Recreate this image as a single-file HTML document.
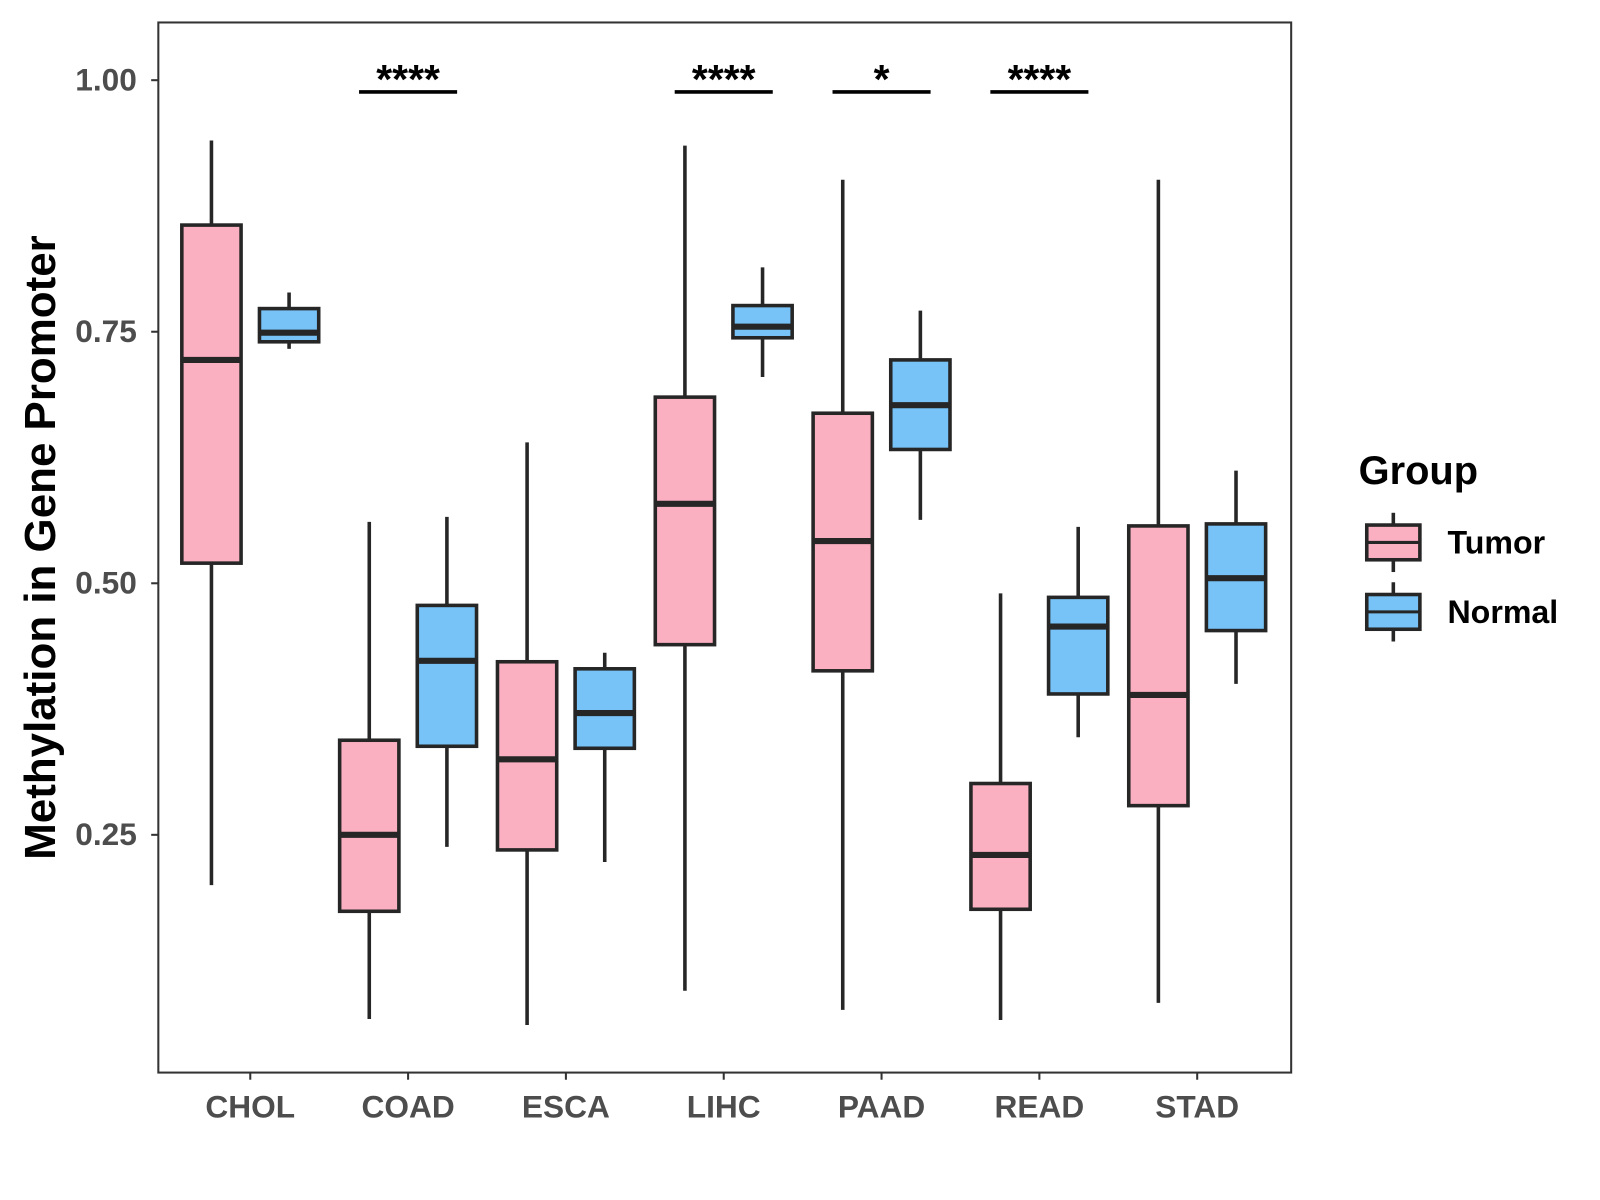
<!DOCTYPE html>
<html><head><meta charset="utf-8"><style>
body{margin:0;background:#fff}
svg{display:block;font-family:"Liberation Sans",Arial,sans-serif}
</style></head><body>
<svg width="1600" height="1200" viewBox="0 0 1600 1200"><g id="chart" transform="scale(1.0215)"></g></svg>
<script>
const categories=["CHOL","COAD","ESCA","LIHC","PAAD","READ","STAD"];
const tumorStats=[[0.20,0.52,0.722,0.856,0.94],[0.067,0.174,0.25,0.344,0.561],[0.061,0.235,0.325,0.422,0.64],[0.095,0.439,0.579,0.685,0.935],[0.076,0.413,0.542,0.669,0.901],[0.066,0.176,0.23,0.301,0.49],[0.083,0.279,0.389,0.557,0.901]];
const normalStats=[[0.733,0.74,0.749,0.773,0.789],[0.238,0.338,0.423,0.478,0.566],[0.223,0.336,0.371,0.415,0.431],[0.705,0.744,0.755,0.776,0.814],[0.563,0.633,0.677,0.722,0.771],[0.347,0.39,0.457,0.486,0.556],[0.40,0.453,0.505,0.559,0.612]];
const sigLabels=["","****","","****","*","****",""];
const yTicks=[0.25,0.5,0.75,1.0];
const yTickLabels=["0.25","0.50","0.75","1.00"];

const svg=document.getElementById('chart');
const NS="http://www.w3.org/2000/svg";
function y(v){return 571-(v-0.5)*985;}
function x(i){return 245+i*154.5;}
function add(tag,attrs,text){const e=document.createElementNS(NS,tag);for(const k in attrs)e.setAttribute(k,attrs[k]);if(text!==undefined)e.textContent=text;svg.appendChild(e);return e;}

let p=add('rect',{x:155,y:22,width:1109,height:1028,fill:'none',stroke:'#333','stroke-width':2});



yTicks.forEach((t,i)=>{
  let l=add('line',{x1:148,x2:155,y1:y(t),y2:y(t),stroke:'#333','stroke-width':2});
  
  
  let tx=add('text',{x:134,y:y(t)+10,'text-anchor':'end','font-size':31,'font-weight':'bold',fill:'#4d4d4d'},yTickLabels[i]);
  
  
});
categories.forEach((c,i)=>{
  let l=add('line',{x1:x(i),x2:x(i),y1:1050,y2:1057,stroke:'#333','stroke-width':2});
  
  
  let tx=add('text',{x:x(i),y:1094,'text-anchor':'middle','font-size':31,'font-weight':'bold',fill:'#4d4d4d'},c);
  
  
});
function box(cx,s,fill,name){
  const w=58;
  let wl=add('line',{x1:cx,x2:cx,y1:y(s[0]),y2:y(s[4]),stroke:'#262626','stroke-width':3.5});
  
  
  let r=add('rect',{x:cx-w/2,y:y(s[3]),width:w,height:y(s[1])-y(s[3]),fill:fill,stroke:'#262626','stroke-width':3.5});
  
  
  let m=add('line',{x1:cx-w/2,x2:cx+w/2,y1:y(s[2]),y2:y(s[2]),stroke:'#262626','stroke-width':6});
  
  
}
categories.forEach((c,i)=>{
  box(x(i)-38,tumorStats[i],'#fbb0c2',c.toLowerCase()+'-tumor');
  box(x(i)+38,normalStats[i],'#77c3f8',c.toLowerCase()+'-normal');
  if(sigLabels[i]){
    let l=add('line',{x1:x(i)-48,x2:x(i)+48,y1:90,y2:90,stroke:'#000','stroke-width':3.5});
    
    
    let t=add('text',{x:x(i),y:91,'text-anchor':'middle','font-size':40,'font-weight':'bold',fill:'#000'},sigLabels[i]);
    
    
  }
});
let yl=add('text',{x:0,y:0,transform:'translate(54,536) rotate(-90)','text-anchor':'middle','font-size':43,'font-weight':'bold',fill:'#000'},'Methylation in Gene Promoter');


let lt=add('text',{x:1330,y:474,'font-size':39,'font-weight':'bold',fill:'#000'},'Group');


[['Tumor','#fbb0c2',531],['Normal','#77c3f8',599]].forEach(([n,f,cy])=>{
  let wl=add('line',{x1:1364,x2:1364,y1:cy-29,y2:cy+29,stroke:'#262626','stroke-width':3.5});
  
  
  let r=add('rect',{x:1338,y:cy-17,width:52,height:34,fill:f,stroke:'#262626','stroke-width':3.5});
  
  
  let m=add('line',{x1:1338,x2:1390,y1:cy,y2:cy,stroke:'#262626','stroke-width':3});
  
  
  let t=add('text',{x:1417,y:cy+11,'font-size':31.5,'font-weight':'bold',fill:'#000'},n);
  
  
});
</script>
</body></html>
